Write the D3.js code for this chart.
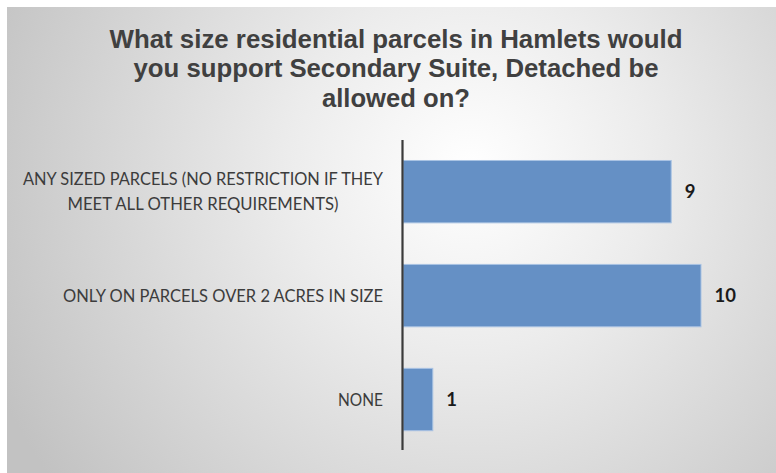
<!DOCTYPE html>
<html>
<head>
<meta charset="utf-8">
<script src="https://cdn.jsdelivr.net/npm/d3@7"></script>
<style>
  html, body { margin: 0; padding: 0; background: #ffffff; }
  svg { display: block; }
</style>
</head>
<body>
<svg id="chart" width="776" height="473"></svg>
<script>
// ---- data ----
const titleLines = [
  "What size residential parcels in Hamlets would",
  "you support Secondary Suite, Detached be",
  "allowed on?"
];
const categories = [
  "ANY SIZED PARCELS (NO RESTRICTION IF THEY MEET ALL OTHER REQUIREMENTS)",
  "ONLY ON PARCELS OVER 2 ACRES IN SIZE",
  "NONE"
];
const categoryLines = [
  ["ANY SIZED PARCELS (NO RESTRICTION IF THEY", "MEET ALL OTHER REQUIREMENTS)"],
  ["ONLY ON PARCELS OVER 2 ACRES IN SIZE"],
  ["NONE"]
];
const values = [9, 10, 1];

// ---- layout ----
const W = 776, H = 473;
const svg = d3.select("#chart");

const defs = svg.append("defs");
const grad = defs.append("radialGradient")
  .attr("id", "bg")
  .attr("gradientUnits", "userSpaceOnUse")
  .attr("cx", 470).attr("cy", 170).attr("r", 520)
  .attr("fx", 470).attr("fy", 170);
grad.append("stop").attr("offset", "0%").attr("stop-color", "#ffffff");
grad.append("stop").attr("offset", "35%").attr("stop-color", "#ececec");
grad.append("stop").attr("offset", "100%").attr("stop-color", "#c2c2c2");

svg.append("rect")
  .attr("x", 7).attr("y", 7).attr("width", W - 7).attr("height", H - 7)
  .attr("fill", "url(#bg)");

// title
const titleWidths = [573, 525, 148];
svg.append("g").selectAll("text")
  .data(titleLines)
  .join("text")
  .attr("x", 396)
  .attr("y", (d, i) => 47.7 + i * 29.5)
  .attr("text-anchor", "middle")
  .attr("font-family", "'Liberation Sans', Arial, sans-serif")
  .attr("font-weight", "bold")
  .attr("font-size", 25)
  .attr("fill", "#404040")
  .attr("textLength", (d, i) => titleWidths[i])
  .attr("lengthAdjust", "spacingAndGlyphs")
  .text(d => d);

// scales
const x = d3.scaleLinear().domain([0, 10]).range([403, 701]);
const y = d3.scaleBand().domain(categories).range([139.7, 451.5])
  .paddingInner(0.4).paddingOuter(0.2);

// bars
svg.append("g").selectAll("rect")
  .data(values)
  .join("rect")
  .attr("x", x(0))
  .attr("y", (d, i) => y(categories[i]))
  .attr("width", d => x(d) - x(0))
  .attr("height", y.bandwidth())
  .attr("fill", "#6590c5")
  .attr("stroke", "#a9c3e3")
  .attr("stroke-width", 1);

// axis line (category axis, no ticks)
const yAxis = d3.axisLeft(y).tickSize(0).tickFormat("");
const ag = svg.append("g").attr("transform", `translate(${x(0) - 0.5},0)`).call(yAxis);
ag.select(".domain").attr("stroke", "#3a3a3a").attr("stroke-width", 2.2)
  .attr("d", `M0,140V450`);

// category labels
const labelRight = 383;
const lineWidths = {
  "ANY SIZED PARCELS (NO RESTRICTION IF THEY": 360,
  "MEET ALL OTHER REQUIREMENTS)": 271,
  "ONLY ON PARCELS OVER 2 ACRES IN SIZE": 320,
  "NONE": 45
};
const lblG = svg.append("g");
categoryLines.forEach((lines, i) => {
  const cy = y(categories[i]) + y.bandwidth() / 2;
  const maxW = d3.max(lines, l => lineWidths[l]);
  const cx = labelRight - maxW / 2;
  const lh = 25;
  lines.forEach((l, j) => {
    const base = cy + 6.2 + (j - (lines.length - 1) / 2) * lh;
    lblG.append("text")
      .attr("x", lines.length > 1 ? cx : labelRight)
      .attr("y", base)
      .attr("text-anchor", lines.length > 1 ? "middle" : "end")
      .attr("font-family", "Lato, 'Open Sans', sans-serif")
      .attr("font-size", 17.5)
      .attr("fill", "#3c3c3c")
      .attr("textLength", lineWidths[l])
      .attr("lengthAdjust", "spacingAndGlyphs")
      .text(l);
  });
});

// value labels
svg.append("g").selectAll("text")
  .data(values)
  .join("text")
  .attr("x", d => x(d) + 13.5)
  .attr("y", (d, i) => y(categories[i]) + y.bandwidth() / 2 + 6.8)
  .attr("font-family", "Lato, 'Open Sans', sans-serif")
  .attr("font-weight", "bold")
  .attr("font-size", 18.5)
  .attr("fill", "#1a1a1a")
  .text(d => d);
</script>
</body>
</html>
